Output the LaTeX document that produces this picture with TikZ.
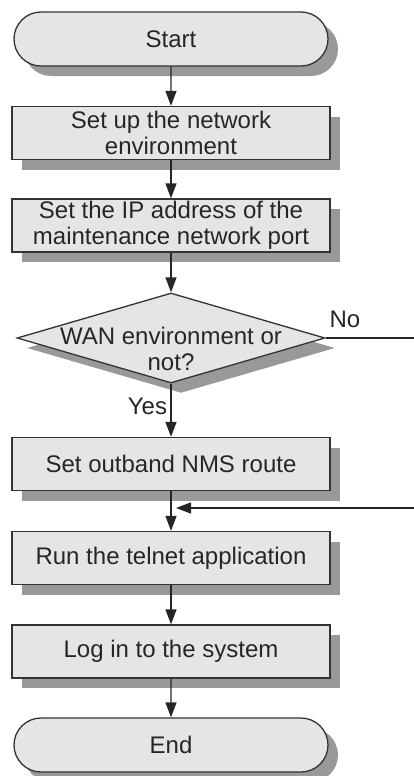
\documentclass[tikz,border=0pt]{standalone}
\usepackage{fontspec}
\setmainfont{Liberation Sans}
\usetikzlibrary{arrows.meta,shapes.geometric,shapes.misc,shadows}
\newcommand{\flowfont}{\fontsize{24}{26}\selectfont}
\tikzset{
  stepbox/.style={rectangle, draw=black!80, line width=1.3pt, fill=black!10, minimum width=318pt, minimum height=53pt, inner sep=2pt, align=center, font=\flowfont, text=black!85, drop shadow={shadow xshift=10pt, shadow yshift=-10pt, fill=black!40, opacity=1}},
  termbox/.style={stepbox, rounded rectangle, minimum height=54pt},
  choicebox/.style={stepbox, diamond, aspect=3.4, minimum width=308pt, minimum height=90pt, inner sep=0pt},
  flowline/.style={line width=1.3pt, black!85},
  flowarrow/.style={flowline, -{Triangle[length=15pt,width=11pt]}},
  flowlabel/.style={font=\flowfont, text=black!85},
}

\begin{document}
\begin{tikzpicture}[x=1pt,y=1pt]
\useasboundingbox (0,0) rectangle (414,-776);
% steps
\node[termbox] (start) at (171,-39) {Start};
\node[stepbox] (setup) at (171,-133) {Set up the network\\environment};
\node[stepbox] (ipaddr) at (171,-225.5) {Set the IP address of the\\maintenance network port};
\node[choicebox] (wan) at (171,-338) {};
\node[flowlabel, align=center] (wantext) at (171,-349) {WAN environment or\\not?};
\node[stepbox] (nms) at (171,-464) {Set outband NMS route};
\node[stepbox] (telnet) at (171,-558) {Run the telnet application};
\node[stepbox] (login) at (171,-651.5) {Log in to the system};
\node[termbox] (end) at (171,-745) {End};
% loop ends at the page edge
\coordinate (noend) at (414,-338);
\coordinate (back) at (414,-508);
\coordinate (join) at (nms.south |- back);
% connectors
\draw[flowarrow] (start) -- (setup);
\draw[flowarrow] (setup) -- (ipaddr);
\draw[flowarrow] (ipaddr) -- (wan);
\draw[flowarrow] (wan) -- node[flowlabel, left, pos=0.42] {Yes} (nms);
\draw[flowarrow] (nms) -- (telnet);
\draw[flowarrow] (telnet) -- (login);
\draw[flowarrow] (login) -- (end);
\draw[flowline] (wan.east) -- node[flowlabel, above right, pos=0, yshift=6pt] {No} (noend);
\draw[flowarrow, shorten >=5pt] (back) -- (join);
\end{tikzpicture}
\end{document}
